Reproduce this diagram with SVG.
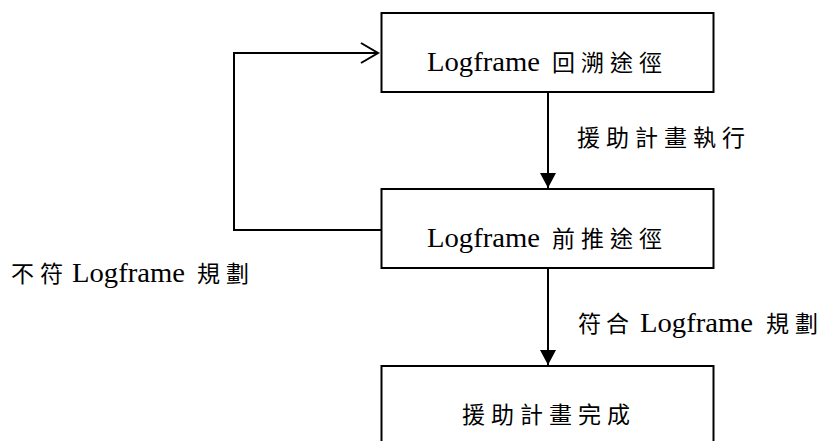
<svg xmlns="http://www.w3.org/2000/svg" width="821" height="441" viewBox="0 0 821 441">
  <style>
    .box { fill: #ffffff; stroke: #000000; stroke-width: 2; }
    .wire { fill: none; stroke: #000000; stroke-width: 2; }
    .cjk { font-family: "Noto Sans CJK TC", "Noto Sans CJK SC", sans-serif; font-size: 23px; fill: #000000; }
    .lat { font-family: "Liberation Serif", "DejaVu Serif", serif; font-size: 28px; fill: #000000; }
  </style>
  <defs>
    <marker id="solid" markerUnits="userSpaceOnUse" markerWidth="16" markerHeight="16" refX="15" refY="8" orient="auto">
      <path d="M0,0 L15,8 L0,16 z" fill="#000000"/>
    </marker>
    <marker id="open" markerUnits="userSpaceOnUse" markerWidth="22" markerHeight="24" refX="18" refY="11" orient="auto">
      <path d="M1,1 L18,11 L1,21" fill="none" stroke="#000000" stroke-width="2"/>
    </marker>
  </defs>

  <rect width="821" height="441" fill="#ffffff"/>

  <!-- connectors and their labels -->
  <g id="connectors">
    <line class="wire" x1="548" y1="92" x2="548" y2="188" marker-end="url(#solid)"/>
    <line class="wire" x1="548" y1="268" x2="548" y2="365" marker-end="url(#solid)"/>
    <polyline class="wire" points="381,230 234,230 234,53 378,53" marker-end="url(#open)"/>
    <text class="cjk" x="577 606 635 664 693 722" y="146">援助計畫執行</text>
    <text y="332"><tspan class="cjk" x="578 606">符合</tspan><tspan class="lat" x="640" textLength="113" lengthAdjust="spacingAndGlyphs">Logframe</tspan><tspan class="cjk" x="766 795">規劃</tspan></text>
    <text y="282"><tspan class="cjk" x="11 40">不符</tspan><tspan class="lat" x="72" textLength="113" lengthAdjust="spacingAndGlyphs">Logframe</tspan><tspan class="cjk" x="197 226">規劃</tspan></text>
  </g>

  <!-- backward pass -->
  <g id="node-backward">
    <rect class="box" x="381.5" y="13" width="332" height="79"/>
    <text y="71"><tspan class="lat" x="427" textLength="113" lengthAdjust="spacingAndGlyphs">Logframe</tspan><tspan class="cjk" x="552 581 610 639">回溯途徑</tspan></text>
  </g>

  <!-- forward pass -->
  <g id="node-forward">
    <rect class="box" x="381.5" y="189" width="332" height="79"/>
    <text y="247"><tspan class="lat" x="427" textLength="113" lengthAdjust="spacingAndGlyphs">Logframe</tspan><tspan class="cjk" x="552 581 610 639">前推途徑</tspan></text>
  </g>

  <!-- completion -->
  <g id="node-done">
    <rect class="box" x="381.5" y="366" width="332" height="100"/>
    <text class="cjk" x="462 491 520 549 578 607" y="423">援助計畫完成</text>
  </g>
</svg>
